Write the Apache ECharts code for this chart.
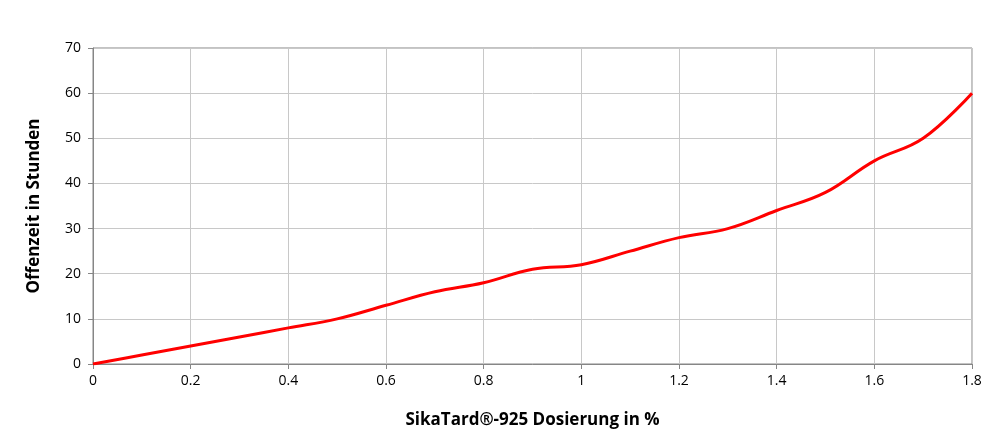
<!DOCTYPE html>
<html><head><meta charset="utf-8">
<script src="https://cdn.jsdelivr.net/npm/echarts@6/dist/echarts.min.js"></script>
<style>html,body{margin:0;padding:0;background:#fff}#c{width:1000px;height:447px}</style>
</head><body><div id="c"></div>
<script>
const dosage = [0,0.1,0.2,0.3,0.4,0.5,0.6,0.7,0.8,0.9,1.0,1.1,1.2,1.3,1.4,1.5,1.6,1.7,1.8];
const hours  = [0,2,4,6,8,10,13,16,18,21,22,25,28,30,34,38,45,50,60];
const xTitle = 'SikaTard®-925 Dosierung in %';
const yTitle = 'Offenzeit in Stunden';
const font = 'Open Sans';
const chart = echarts.init(document.getElementById('c'));
chart.setOption({
  animation:false,
  grid:{left:93,right:28,top:48,bottom:83,show:true,borderColor:'#868686',borderWidth:1},
  xAxis:{type:'value',min:0,max:1.8,interval:0.2,
    name:xTitle,nameLocation:'middle',nameGap:48,
    nameTextStyle:{fontFamily:font,fontSize:17,fontWeight:'bold',color:'#000'},
    axisLine:{lineStyle:{color:'#868686'}},axisTick:{show:true,length:5,lineStyle:{color:'#868686'}},
    axisLabel:{fontFamily:font,fontSize:14,color:'#000',margin:10,formatter:v=>String(+v.toFixed(1))},
    splitLine:{lineStyle:{color:'#c8c8c8'}}},
  yAxis:{type:'value',min:0,max:70,interval:10,
    name:yTitle,nameLocation:'middle',nameGap:50,
    nameTextStyle:{fontFamily:font,fontSize:17,fontWeight:'bold',color:'#000'},
    axisLine:{show:true,lineStyle:{color:'#868686'}},axisTick:{show:true,length:5,lineStyle:{color:'#868686'}},
    axisLabel:{fontFamily:font,fontSize:14,color:'#000',margin:12},
    splitLine:{lineStyle:{color:'#c8c8c8'}}},
  series:[{type:'line',data:dosage.map((d,i)=>[d,hours[i]]),smooth:0.4,showSymbol:false,
    lineStyle:{color:'#ff0000',width:3}}]
});
</script></body></html>
